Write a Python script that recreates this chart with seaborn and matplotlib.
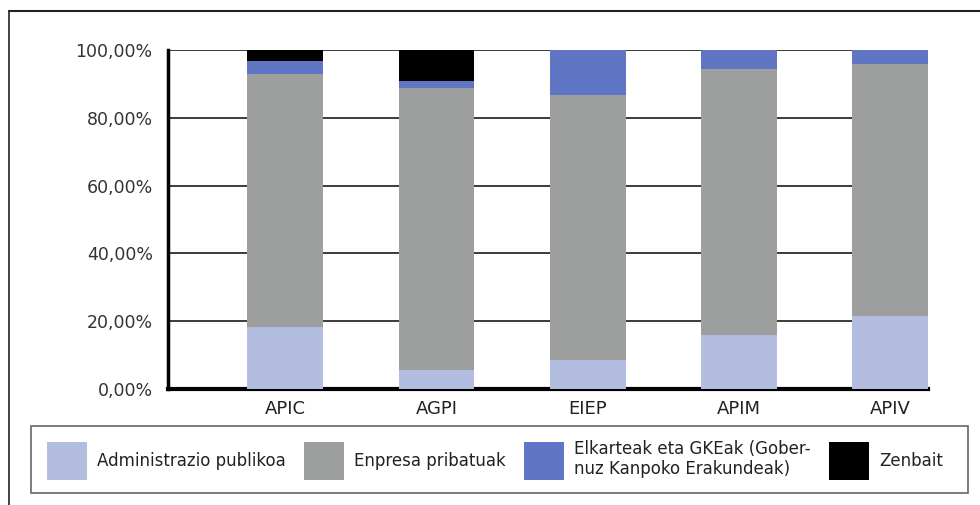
import numpy as np
import pandas as pd
import matplotlib
matplotlib.use('Agg')
import matplotlib.pyplot as plt
import seaborn as sns
from matplotlib.patches import Patch, Rectangle
from matplotlib.lines import Line2D

categories = ['APIC', 'AGPI', 'EIEP', 'APIM', 'APIV']
series_names = ['Administrazio publikoa', 'Enpresa pribatuak',
                'Elkarteak eta GKEak (Gober-\nnuz Kanpoko Erakundeak)', 'Zenbait']
admin = [18.2, 5.6, 8.5, 15.9, 21.5]
enpresa = [74.8, 83.2, 78.3, 78.5, 74.4]
elkarteak = [3.8, 2.1, 13.2, 5.6, 4.1]
zenbait = [3.2, 9.1, 0.0, 0.0, 0.0]
colors = ['#b3bde0', '#9d9f9e', '#6076c4', '#000000']
yticks = [0, 20, 40, 60, 80, 100]
ytick_labels = ['0,00%', '20,00%', '40,00%', '60,00%', '80,00%', '100,00%']

sns.set_style('white')
plt.rcParams['font.family'] = ['DejaVu Sans']

df = pd.DataFrame({'cat': categories, 'admin': admin, 'enpresa': enpresa,
                   'elkarteak': elkarteak, 'zenbait': zenbait})
cols = ['admin', 'enpresa', 'elkarteak', 'zenbait']
cum = df[cols].cumsum(axis=1)

fig = plt.figure(figsize=(9.8, 5.05), dpi=100)
ax = fig.add_axes([168 / 980, 1 - 389 / 505, (928 - 168) / 980, 339 / 505])

# draw cumulative stacks from the top layer down so each layer covers the next
for col, color in reversed(list(zip(cols, colors))):
    sns.barplot(x=df['cat'], y=cum[col], color=color, width=0.5,
                saturation=1, ax=ax, zorder=3, linewidth=0)

ax.set_ylim(0, 100)
ax.set_xlim(-0.775, 4.25)
ax.set_yticks(yticks)
ax.set_yticklabels(ytick_labels, fontsize=12.5, color='#333333')
ax.set_xlabel('')
ax.set_ylabel('')
ax.yaxis.grid(True, color='#1a1a1a', linewidth=1.2)
ax.xaxis.grid(False)
ax.set_axisbelow(True)
for s in ['top', 'right']:
    ax.spines[s].set_visible(False)
ax.spines['left'].set_linewidth(2.5)
ax.spines['left'].set_color('black')
ax.spines['bottom'].set_linewidth(3)
ax.spines['bottom'].set_color('black')
ax.tick_params(axis='y', direction='out', length=5, width=2.5, color='black', pad=6)
ax.tick_params(axis='x', length=0, pad=8, labelsize=13, labelcolor='#222222')

handles = [Patch(facecolor=c, edgecolor='none') for c in colors]
leg = fig.legend(handles, series_names, loc='center left',
                 bbox_to_anchor=(47 / 980, 1 - 460 / 505),
                 ncol=4, frameon=False, fontsize=12,
                 handlelength=2.4, handleheight=3.2,
                 handletextpad=0.6, borderaxespad=0, borderpad=0,
                 columnspacing=1.1)
for t in leg.get_texts():
    t.set_color('#222222')

# legend frame and outer frame lines of the original figure
fig.add_artist(Rectangle((31 / 980, 1 - 493 / 505), 937 / 980, 67 / 505,
                         transform=fig.transFigure, fill=False,
                         edgecolor='#666666', linewidth=1.2))
fig.add_artist(Line2D([9 / 980, 1], [1 - 11 / 505, 1 - 11 / 505], color='#222222', linewidth=1.5))
fig.add_artist(Line2D([9 / 980, 9 / 980], [1 - 11 / 505, 0], color='#222222', linewidth=1.2))

fig.savefig('out.png', dpi=100)
